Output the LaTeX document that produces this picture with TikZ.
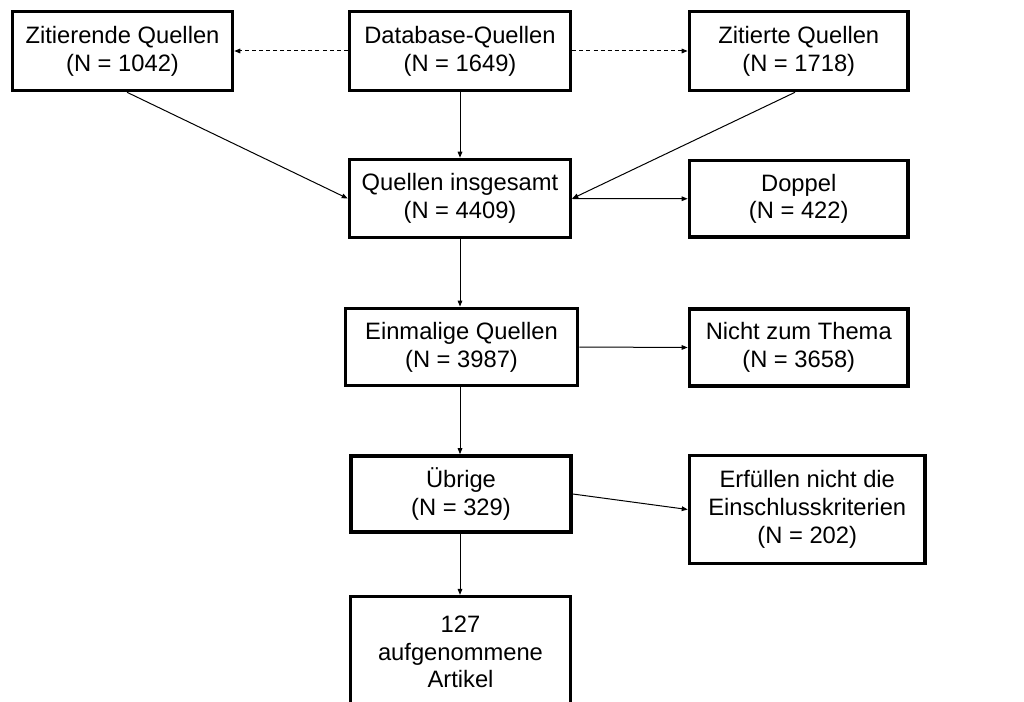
\documentclass[tikz,border=0pt]{standalone}
\usepackage{fontspec}
\setmainfont{Liberation Sans}
\usetikzlibrary{arrows.meta}
\begin{document}
\begin{tikzpicture}[x=0.75pt,y=-0.75pt,
  box/.style={draw=black,line width=2.7pt,rectangle,align=center,inner sep=0pt,
    font=\fontsize{17.8}{20.8}\selectfont},
  conn/.style={line width=0.75pt,-{Triangle[length=4.5pt,width=3.5pt]}},
  dconn/.style={conn,dash pattern=on 3pt off 2.3pt}]
\useasboundingbox (0,0) rectangle (1024,702);
\node[box,minimum width=165pt,minimum height=59.25pt] (zit) at (122.5,51) {Zitierende Quellen\\(N = 1042)};
\node[box,minimum width=165.75pt,minimum height=59.25pt] (db) at (460,51) {Database-Quellen\\(N = 1649)};
\node[box,minimum width=164pt,minimum height=59.25pt] (zit2) at (798.75,51) {Zitierte Quellen\\(N = 1718)};
\node[box,minimum width=165.75pt,minimum height=58.5pt] (ges) at (460,198.5) {Quellen insgesamt\\(N = 4409)};
\node[box,minimum width=164pt,minimum height=57.5pt] (dop) at (798.75,198.75) {Doppel\\(N = 422)};
\node[box,minimum width=174pt,minimum height=58pt] (ein) at (461.5,347) {Einmalige Quellen\\(N = 3987)};
\node[box,minimum width=164pt,minimum height=58pt] (nicht) at (798.75,347.5) {Nicht zum Thema\\(N = 3658)};
\node[box,minimum width=165pt,minimum height=57pt] (ueb) at (461,494) {Übrige\\(N = 329)};
\node[box,minimum width=176.6pt,minimum height=81pt] (erf) at (807.25,509.5) {Erfüllen nicht die\\Einschlusskriterien\\(N = 202)};
\node[box,minimum width=165pt,minimum height=83pt] (art) at (460.5,652) {127\\aufgenommene\\Artikel};
\draw[dconn] (db.west) -- (zit.east);
\draw[dconn] (db.east) -- (zit2.west);
\draw[conn] ([xshift=3.4pt]zit.south) -- (ges.west);
\draw[conn] (db.south) -- (ges.north);
\draw[conn] ([xshift=-2.8pt]zit2.south) -- (ges.east);
\draw[conn] (ges.east) -- (dop.west);
\draw[conn] (ges.south) -- (ein.north -| ges.south);
\draw[conn] (ein.east) -- (nicht.west);
\draw[conn] (ein.south -| ges.south) -- (ueb.north -| ges.south);
\draw[conn] (ueb.east) -- (erf.west);
\draw[conn] (ueb.south -| ges.south) -- (art.north -| ges.south);
\end{tikzpicture}
\end{document}
